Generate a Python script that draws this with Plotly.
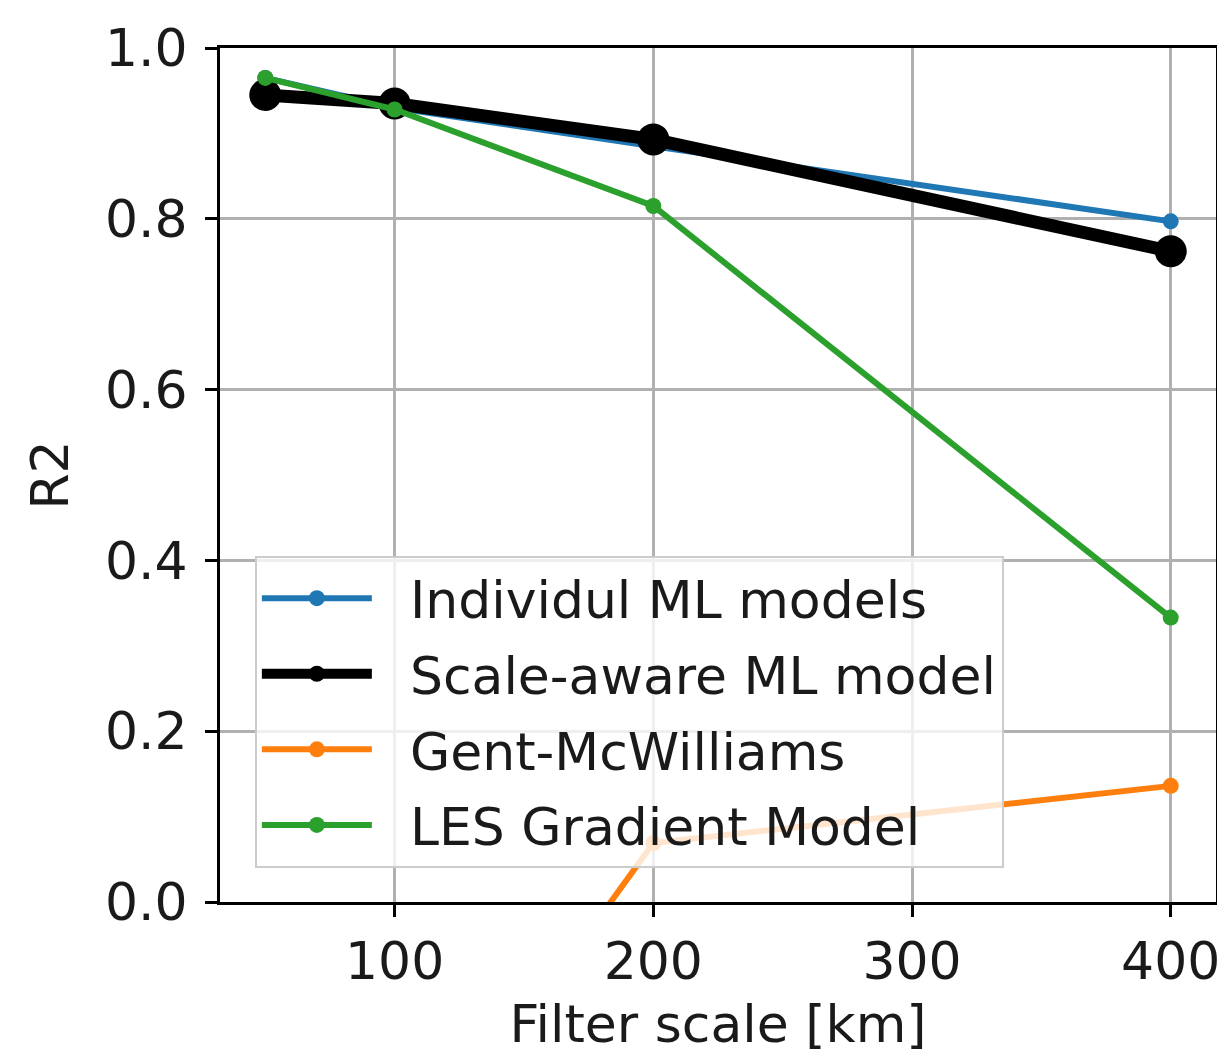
import plotly.graph_objects as go

filter_scale = [50, 100, 200, 400]
individual_ml = [0.965, 0.930, 0.885, 0.797]
scale_aware_ml = [0.945, 0.935, 0.893, 0.762]
gent_mcwilliams = [-1.2, -0.35, 0.069, 0.136]
les_gradient = [0.965, 0.928, 0.815, 0.333]

x_ticks = [100, 200, 300, 400]
y_ticks = [0.0, 0.2, 0.4, 0.6, 0.8, 1.0]

FONT = "DejaVu Sans"
FS = 52
TXT = "#1a1a1a"
fig = go.Figure()

series = [
    ("Individul ML models", individual_ml, "#1f77b4", 6, 16),
    ("Scale-aware ML model", scale_aware_ml, "#000000", 13, 32),
    ("Gent-McWilliams", gent_mcwilliams, "#ff7f0e", 6, 16),
    ("LES Gradient Model", les_gradient, "#2ca02c", 6, 16),
]
for i, (name, vals, color, lw, ms) in enumerate(series):
    fig.add_trace(go.Scatter(
        x=filter_scale, y=vals, name="\u00a0\u00a0" + name, mode="lines+markers",
        line=dict(color=color, width=lw),
        marker=dict(color=color, size=ms),
        legendgroup=f"g{i}",
        cliponaxis=True,
    ))

axis_common = dict(
    showline=True, linecolor="black", linewidth=3, mirror=True,
    ticks="outside", ticklen=12, tickwidth=3, tickcolor="black",
    showgrid=True, gridcolor="#b0b0b0", gridwidth=3,
    zeroline=False,
    tickfont=dict(family=FONT, size=FS, color=TXT),
)
fig.update_xaxes(
    range=[32.5, 417.5], tickvals=x_ticks, ticktext=[str(v) for v in x_ticks],
    title=dict(text="Filter scale [km]", font=dict(family=FONT, size=FS, color=TXT), standoff=16),
    **axis_common,
)
fig.update_yaxes(
    range=[0, 1], tickvals=y_ticks, ticktext=[f"{v:.1f}" for v in y_ticks],
    title=dict(text="R2", font=dict(family=FONT, size=FS, color=TXT), standoff=20),
    ticklabelstandoff=7,
    **axis_common,
)

fig.update_layout(
    width=1222, height=1048,
    margin=dict(l=212, r=10, t=40, b=154),
    paper_bgcolor="white", plot_bgcolor="white",
    font=dict(family=FONT, size=FS, color=TXT),
    legend=dict(
        x=0.035, y=0.040, xanchor="left", yanchor="bottom",
        bgcolor="rgba(255,255,255,0.8)", bordercolor="#cccccc", borderwidth=2,
        font=dict(family=FONT, size=FS, color=TXT),
        itemwidth=110, tracegroupgap=5, traceorder="grouped",
    ),
    showlegend=True,
)

fig.write_html("out.html")
